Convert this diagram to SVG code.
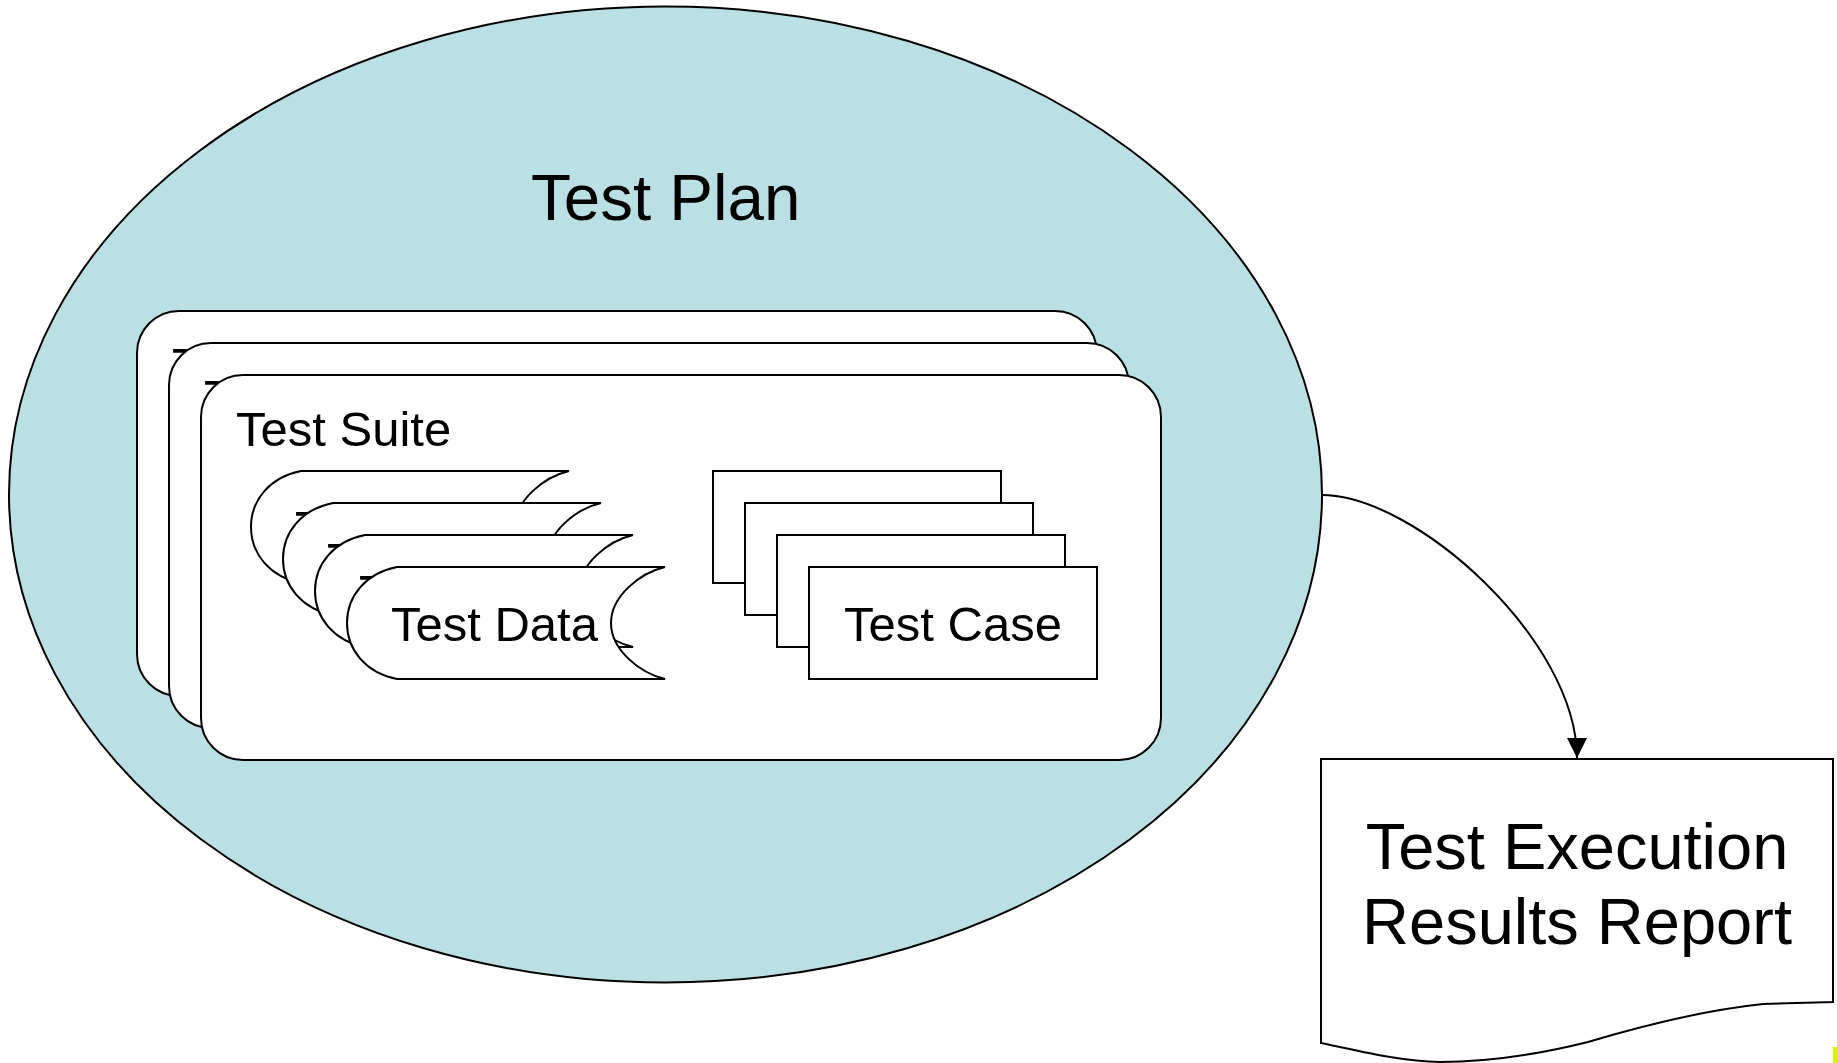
<svg xmlns="http://www.w3.org/2000/svg" xmlns:xlink="http://www.w3.org/1999/xlink" width="1837" height="1063" viewBox="0 0 1837 1063">
<style>
  .ln{stroke:#000;stroke-width:2;fill:#fff}
  .t{font-family:"Liberation Sans",Arial,sans-serif;fill:#000}
  .t49{font-size:49px}
  .big{font-size:65px}
</style>
<defs>
  <path id="sdshape" d="M50,0 H318 C293,6 264,29 264,56 C264,83 293,106 318,112 H50 C19,106 0,83 0,56 C0,29 19,6 50,0 Z"/>
  <marker id="arr" markerUnits="userSpaceOnUse" markerWidth="20" markerHeight="20" refX="20" refY="10" orient="auto">
    <path d="M0,0 L20,10 L0,20 Z" fill="#000"/>
  </marker>
</defs>
<rect x="0" y="0" width="1837" height="1063" fill="#fff"/>
<g id="test-plan">
  <ellipse cx="665.5" cy="494.5" rx="656.5" ry="488" fill="#BAE0E3" stroke="#000" stroke-width="2"/>
  <text class="t" x="531" y="220" font-size="65.5">Test Plan</text>
</g>
<g id="suite-1" transform="translate(137,311)">
  <rect class="ln" x="0" y="0" width="960" height="385" rx="42"/>
  <text class="t t49" x="35" y="71">Test Suite</text>
</g>
<g id="suite-2" transform="translate(169,343)">
  <rect class="ln" x="0" y="0" width="960" height="385" rx="42"/>
  <text class="t t49" x="35" y="71">Test Suite</text>
</g>
<g id="suite-3" transform="translate(201,375)">
  <rect class="ln" x="0" y="0" width="960" height="385" rx="42"/>
  <text class="t t49" x="35" y="71">Test Suite</text>
</g>
<g id="data-1" transform="translate(251,471)">
  <use xlink:href="#sdshape" class="ln"/>
  <text class="t t49" x="44" y="74">Test Data</text>
</g>
<g id="data-2" transform="translate(283,503)">
  <use xlink:href="#sdshape" class="ln"/>
  <text class="t t49" x="44" y="74">Test Data</text>
</g>
<g id="data-3" transform="translate(315,535)">
  <use xlink:href="#sdshape" class="ln"/>
  <text class="t t49" x="44" y="74">Test Data</text>
</g>
<g id="data-4" transform="translate(347,567)">
  <use xlink:href="#sdshape" class="ln"/>
  <text class="t t49" x="44" y="74">Test Data</text>
</g>
<g id="case-1" transform="translate(713,471)">
  <rect class="ln" x="0" y="0" width="288" height="112"/>
</g>
<g id="case-2" transform="translate(745,503)">
  <rect class="ln" x="0" y="0" width="288" height="112"/>
</g>
<g id="case-3" transform="translate(777,535)">
  <rect class="ln" x="0" y="0" width="288" height="112"/>
</g>
<g id="case-4" transform="translate(809,567)">
  <rect class="ln" x="0" y="0" width="288" height="112"/>
  <text class="t t49" x="144" y="74" text-anchor="middle">Test Case</text>
</g>
<g id="report">
  <path class="ln" d="M1321,759 H1833 V1002 L1763,1004 C1705,1010 1645,1025 1588,1042 C1548,1052 1492,1062 1440,1062 C1397,1061 1356,1050 1321,1043 Z"/>
  <text class="t big" x="1577" y="869" text-anchor="middle">Test Execution</text>
  <text class="t big" x="1577" y="944" text-anchor="middle">Results Report</text>
</g>
<g id="connectors">
  <path d="M1322,495 C1415,495 1577,640 1577,758" fill="none" stroke="#000" stroke-width="2" marker-end="url(#arr)"/>
</g>
<rect x="1833" y="1047" width="4" height="16" fill="#DDF20A"/>
</svg>
